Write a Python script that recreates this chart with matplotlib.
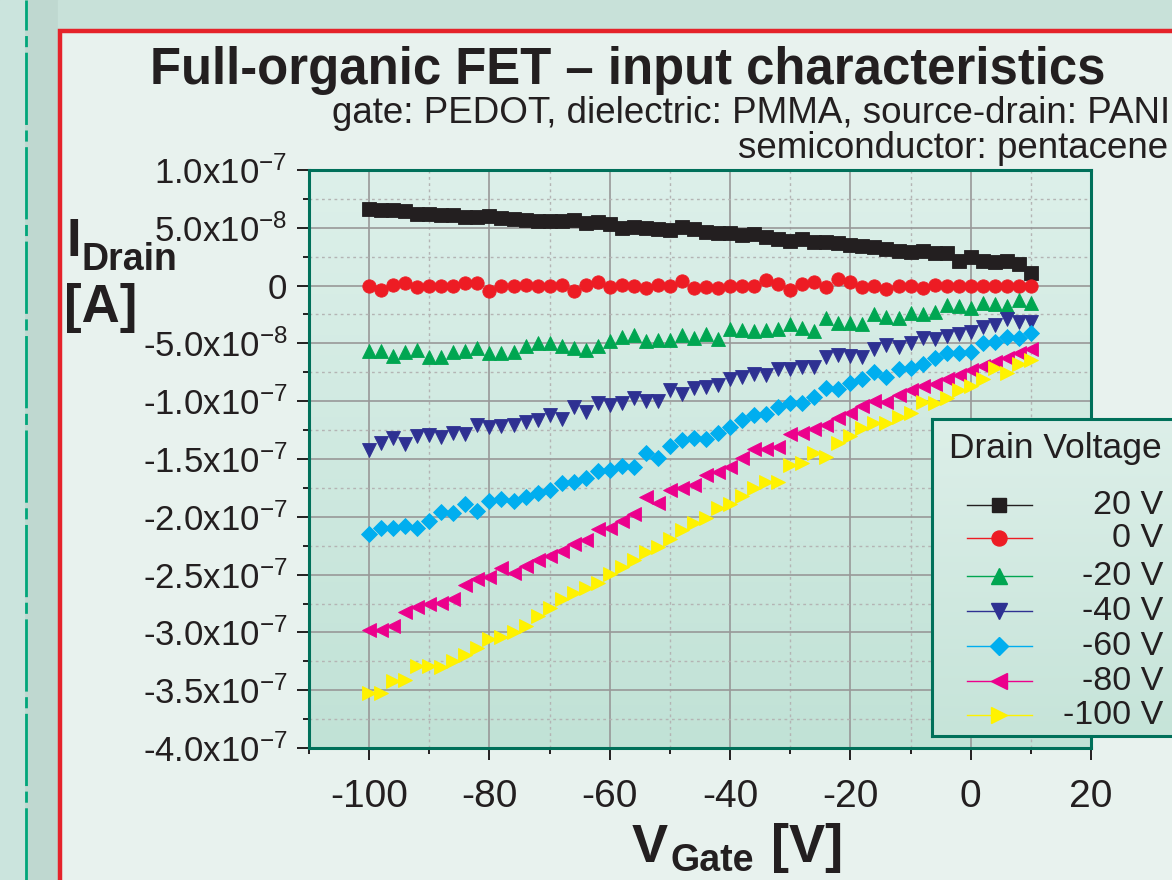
import numpy as np
import matplotlib
matplotlib.use('Agg')
import matplotlib.pyplot as plt
from matplotlib.lines import Line2D
from matplotlib.patches import Rectangle

W, H = 1172, 880

# Gate voltage sweep [V]
v_gate = list(range(-100, 11, 2))

# Drain current in units of 1e-8 A, one list per drain voltage
i_d_20v = [6.60, 6.54, 6.54, 6.45, 6.17, 6.19, 6.14, 6.11, 5.91, 5.96,
           6.05, 5.82, 5.73, 5.67, 5.56, 5.56, 5.56, 5.65, 5.42, 5.47,
           5.33, 5.01, 5.10, 4.95, 4.92, 4.81, 5.04, 4.90,
           4.66, 4.58, 4.52, 4.35, 4.46, 4.23, 4.06, 3.89, 4.00, 3.74,
           3.77, 3.66, 3.54, 3.43, 3.31, 3.19, 3.02, 2.88, 2.97, 2.85,
           2.79, 2.15, 2.50, 2.13, 2.01, 2.15, 1.87, 1.06]
i_d_0v = [-0.03, -0.38, 0.08, 0.20, -0.12, -0.01, -0.06, -0.06, 0.20, 0.20,
          -0.47, -0.01, -0.06, 0.08, -0.06, -0.06, 0.05, -0.50, 0.05, 0.28,
          -0.12, 0.05, -0.06, -0.24, 0.02, -0.01, 0.43, -0.24,
          -0.09, -0.24, -0.01, -0.03, -0.01, 0.48, 0.11, -0.38, 0.11, 0.34,
          -0.09, 0.57, 0.31, -0.15, -0.01, -0.29, -0.06, -0.03, -0.18, 0.05,
          -0.03, -0.01, -0.01, -0.01, -0.01, -0.01, -0.03, -0.03]
i_d_m20v = [-5.66, -5.63, -6.09, -5.72, -5.57, -6.15, -6.21, -5.77, -5.69, -5.43,
            -5.86, -5.86, -5.77, -5.23, -4.94, -4.94, -5.23, -5.43, -5.60, -5.20,
            -4.76, -4.41, -4.27, -4.79, -4.74, -4.71, -4.27, -4.56,
            -4.19, -4.65, -3.78, -3.84, -3.90, -3.84, -3.78, -3.32, -3.64, -3.90,
            -2.83, -3.26, -3.21, -3.32, -2.45, -2.74, -2.83, -2.40, -2.45, -2.25,
            -1.67, -1.76, -1.91, -1.53, -1.59, -1.73, -1.24, -1.48]
i_d_m40v = [-14.23, -13.65, -13.16, -13.73, -13.01, -12.95, -13.13, -12.72, -12.84, -12.07,
            -12.27, -12.15, -12.07, -11.83, -11.60, -11.20, -11.54, -10.47, -10.90, -10.19,
            -10.30, -10.19, -9.75, -9.95, -9.95, -9.03, -9.38, -8.83,
            -8.80, -8.60, -8.11, -7.94, -7.65, -7.73, -7.24, -7.24, -7.07, -7.01,
            -6.21, -6.00, -6.09, -6.15,
            -5.51, -5.14, -5.34, -4.99, -4.56, -4.65, -4.36, -4.19, -3.99, -3.61,
            -3.41, -2.92, -3.12, -3.12]
i_d_m60v = [-21.49, -21.00, -21.00, -20.80, -21.00, -20.36, -19.61, -19.70, -18.90, -19.53,
            -18.60, -18.46, -18.60, -18.26, -17.91, -17.68, -17.05, -16.96, -16.67, -16.01,
            -15.95, -15.61, -15.66, -14.45, -14.94, -13.85, -13.36, -13.22,
            -13.30, -12.72, -12.20, -11.62, -11.19, -11.11, -10.53, -10.13, -10.13, -9.61,
            -8.89, -8.97, -8.40, -8.11, -7.45,
            -7.94, -7.24, -7.16, -6.78, -6.29, -5.86, -5.86, -5.72, -4.99, -4.85,
            -4.42, -4.56, -4.13]
i_d_m80v = [-29.79, -29.79, -29.42, -28.26, -27.77, -27.55, -27.49, -27.14, -25.90, -25.38,
            -25.24, -24.46, -24.83, -24.23, -23.74, -23.39, -22.93, -22.35, -22.01, -21.09,
            -20.94, -20.34, -19.76, -18.26, -18.83, -17.68, -17.48, -17.25,
            -16.38, -16.10, -15.66, -14.94, -14.16, -14.16, -13.93, -12.84, -12.78, -12.43,
            -12.06, -11.48, -11.05, -10.41, -9.95,
            -10.04, -9.46, -9.03, -8.68, -8.51, -8.11, -7.73, -7.30, -6.96, -6.58,
            -6.29, -5.86, -5.51]
i_d_m100v = [-35.27, -35.21, -34.18, -34.12, -32.91, -32.88, -32.96, -32.47, -31.95, -31.38,
             -30.60, -30.43, -29.93, -29.44, -28.58, -27.91, -27.14, -26.62, -26.19, -25.75,
             -24.95, -24.31, -23.74, -23.02, -22.59, -21.95, -21.14, -20.56,
             -20.13, -19.27, -18.89, -18.20, -17.54, -16.96, -16.96, -15.52, -15.38, -14.45,
             -14.80, -13.64, -13.01, -12.35, -11.86,
             -11.91, -11.34, -10.99, -10.04, -10.18, -9.75, -9.03, -8.68, -8.11, -7.16,
             -7.53, -6.78, -6.44]

drain_labels = ['20 V', '0 V', '-20 V', '-40 V', '-60 V', '-80 V', '-100 V']
x_ticks = [-100, -80, -60, -40, -20, 0, 20]
x_tick_labels = ['-100', '-80', '-60', '-40', '-20', '0', '20']
y_ticks = [1e-7, 5e-8, 0, -5e-8, -1e-7, -1.5e-7, -2e-7, -2.5e-7, -3e-7, -3.5e-7, -4e-7]
y_tick_labels = [r'1.0x10$^{-7}$', r'5.0x10$^{-8}$', '0', r'-5.0x10$^{-8}$',
                 r'-1.0x10$^{-7}$', r'-1.5x10$^{-7}$', r'-2.0x10$^{-7}$', r'-2.5x10$^{-7}$',
                 r'-3.0x10$^{-7}$', r'-3.5x10$^{-7}$', r'-4.0x10$^{-7}$']

series = [i_d_20v, i_d_0v, i_d_m20v, i_d_m40v, i_d_m60v, i_d_m80v, i_d_m100v]
colors = ['#231f20', '#ed1c24', '#00a651', '#2e3192', '#00aeef', '#ec008c', '#fff200']
markers = ['s', 'o', '^', 'v', 'D', '<', '>']
msizes = [9.4, 9.6, 10.6, 10.6, 8.3, 10.6, 10.6]

plt.rcParams['font.family'] = ['Liberation Sans', 'DejaVu Sans']
plt.rcParams['mathtext.fontset'] = 'custom'
plt.rcParams['mathtext.rm'] = 'Liberation Sans'
plt.rcParams['mathtext.default'] = 'regular'
plt.rcParams['axes.unicode_minus'] = False
TXT = '#231f20'
GREEN = '#00705a'


def fx(x):
    return x / W


def fy(y):
    return 1 - y / H


def gradient(top, bottom, n=256):
    t = np.linspace(0, 1, n)[:, None]
    c0 = np.array(matplotlib.colors.to_rgb(top))
    c1 = np.array(matplotlib.colors.to_rgb(bottom))
    return (c0 * (1 - t) + c1 * t)[:, None, :]


fig = plt.figure(figsize=(W / 100, H / 100), dpi=100)
fig.patch.set_facecolor('#e8f2ee')

# poster background: side strip, top strip, dashed rule and red frame
fig.add_artist(Rectangle((0, 0), fx(58), 1, transform=fig.transFigure,
                         color='#bfd8d0', zorder=-2))
fig.add_artist(Rectangle((0, 0), fx(24), 1, transform=fig.transFigure,
                         color='#cbe4dd', zorder=-2))
fig.add_artist(Rectangle((fx(58), fy(29)), 1, 29 / H, transform=fig.transFigure,
                         color='#c8e1d9', zorder=-2))
fig.add_artist(Line2D([fx(25.5), fx(25.5)], [0, 1], transform=fig.transFigure,
                      color='#00a67a', lw=2.0, dashes=[26, 2, 4, 2], zorder=-1))
fig.add_artist(Line2D([fx(60), fx(60), 1.01], [-0.01, fy(31), fy(31)],
                      transform=fig.transFigure, color='#e5232a', lw=3.2,
                      solid_joinstyle='miter', zorder=-1))

# main plot
ax = fig.add_axes([fx(309), fy(748), (1091 - 309) / W, (748 - 170) / H])
ax.imshow(gradient('#ddf0ea', '#c1e2d6'), extent=(0, 1, 0, 1),
          transform=ax.transAxes, aspect='auto', zorder=0)

for vals, c, m, ms in zip(series, colors, markers, msizes):
    ax.plot(v_gate, np.array(vals) * 1e-8, ls='none', marker=m, ms=ms,
            color=c, mec=c, mew=0.6, zorder=3)

ax.set_xlim(-110, 20)
ax.set_ylim(-4e-7, 1e-7)
ax.set_xticks(x_ticks, x_tick_labels)
ax.set_xticks([-110, -90, -70, -50, -30, -10, 10], minor=True)
ax.set_yticks(y_ticks, y_tick_labels)
ax.set_yticks(np.arange(-3.75e-7, 1e-7, 5e-8), minor=True)

ax.set_axisbelow(True)
ax.grid(which='major', color='#989898', lw=1.2, ls='-')
ax.grid(which='minor', color='#b4b4b4', lw=1.0, ls=(0, (2, 2.5)))

for s in ax.spines.values():
    s.set_color(GREEN)
    s.set_linewidth(2.2)
    s.set_zorder(4)

ax.tick_params(which='both', direction='out', color=TXT, width=1.4, labelcolor=TXT)
ax.tick_params(which='major', length=8.5)
ax.tick_params(which='minor', length=4)
ax.tick_params(axis='x', labelsize=28, pad=14)
ax.tick_params(axis='y', labelsize=25, pad=7)

# legend box with right-aligned labels
lax = fig.add_axes([fx(932), fy(736), (1195 - 932) / W, (736 - 419) / H])
lax.imshow(gradient('#ddefe9', '#c6e4d9'), extent=(0, 1, 0, 1),
           transform=lax.transAxes, aspect='auto', zorder=0)
lax.set_xlim(932, 1195)
lax.set_ylim(736, 419)
lax.set_xticks([])
lax.set_yticks([])
for s in lax.spines.values():
    s.set_color(GREEN)
    s.set_linewidth(2.2)
lax.text(949, 458, 'Drain Voltage', fontsize=25.5, color=TXT, va='baseline')
row_y = [505, 538, 576, 611, 646, 681, 715]
for y, lab, c, m, ms in zip(row_y, drain_labels, colors, markers, msizes):
    lax.plot([967, 1032], [y, y], color=c, lw=1.0, zorder=2)
    lax.plot([999], [y], ls='none', marker=m, ms=ms + 1.2, color=c, mec=c, zorder=3)
    lax.text(1163, y + 9, lab, fontsize=24.5, color=TXT, ha='right', va='baseline')

# titles and axis labels
fig.text(fx(150), fy(84), 'Full-organic FET \u2013 input characteristics',
         fontsize=36.6, weight='bold', color=TXT, va='baseline')
fig.text(fx(1170), fy(123), 'gate: PEDOT, dielectric: PMMA, source-drain: PANI',
         fontsize=26.5, color=TXT, ha='right', va='baseline')
fig.text(fx(1168), fy(158), 'semiconductor: pentacene',
         fontsize=26.5, color=TXT, ha='right', va='baseline')
fig.text(fx(66), fy(256), 'I', fontsize=38, weight='bold', color=TXT, va='baseline')
fig.text(fx(82), fy(270), 'Drain', fontsize=27, weight='bold', color=TXT, va='baseline')
fig.text(fx(64), fy(322), '[A]', fontsize=38, weight='bold', color=TXT, va='baseline')
fig.text(fx(632), fy(862), 'V', fontsize=39, weight='bold', color=TXT, va='baseline')
fig.text(fx(670), fy(871), 'Gate', fontsize=27, weight='bold', color=TXT, va='baseline')
fig.text(fx(771), fy(862), '[V]', fontsize=39, weight='bold', color=TXT, va='baseline')

fig.savefig('out.png', dpi=100, facecolor=fig.get_facecolor())
